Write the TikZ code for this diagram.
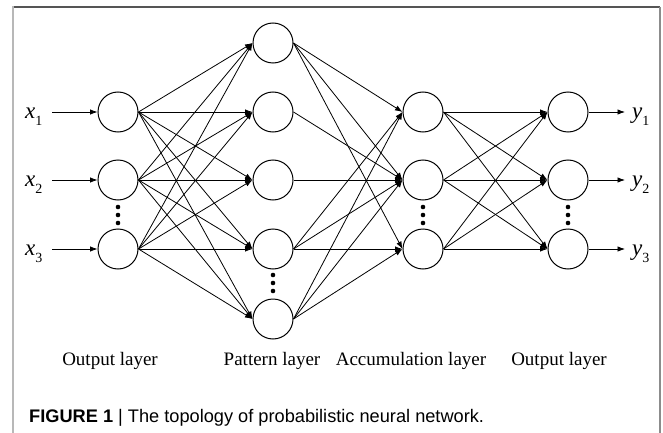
\documentclass[tikz,border=0pt]{standalone}
\usepackage{fontspec}
\setmainfont{Liberation Serif}
\newfontfamily\capfont{Liberation Sans}
\usetikzlibrary{arrows.meta}
\newcommand\lowidx[1]{\raisebox{-0.32em}{\fontsize{14}{14}\selectfont\upshape #1}}
\definecolor{frametop}{HTML}{555555}
\definecolor{frameside}{HTML}{B8B8B8}
\definecolor{frameright}{HTML}{8C8C8C}
\begin{document}
\begin{tikzpicture}[x=1pt,y=-1pt,
  neuron/.style={circle,draw,line width=1pt,minimum size=40pt,inner sep=0pt},
  link/.style={line width=0.8pt,-{Latex[length=7.5pt,width=5.5pt]}},
  dotmark/.style={circle,fill,inner sep=0pt,minimum size=4.6pt},
  lbl/.style={font=\fontsize{19}{19}\selectfont,inner sep=0pt},
  var/.style={font=\fontsize{23}{23}\selectfont\itshape,inner sep=0pt,anchor=base west}]
\useasboundingbox (0,0) rectangle (663,433);

% frame
\draw[frametop,line width=1.4pt] (12,7) -- (660,7);
\draw[frameside,line width=2pt] (13,6) -- (13,433);
\draw[frameright,line width=1.1pt] (660,7) -- (660,433);

% input layer
\node[neuron] (h1) at (118,112) {};
\node[neuron] (h2) at (118,180) {};
\node[neuron] (h3) at (118,249) {};
% pattern layer
\node[neuron] (p1) at (273,43) {};
\node[neuron] (p2) at (273,112) {};
\node[neuron] (p3) at (273,180) {};
\node[neuron] (p4) at (273,249) {};
\node[neuron] (p5) at (273,319) {};
% accumulation layer
\node[neuron] (a1) at (423,112) {};
\node[neuron] (a2) at (423,180) {};
\node[neuron] (a3) at (423,249) {};
% output layer
\node[neuron] (o1) at (568,112) {};
\node[neuron] (o2) at (568,180) {};
\node[neuron] (o3) at (568,249) {};

% ellipsis dots
\foreach \c/\yy in {118/207,423/207,568/207,273/275}{
  \node[dotmark] (d\c a) at (\c,\yy) {};
  \node[dotmark] (d\c b) at (\c,\yy+8) {};
  \node[dotmark] (d\c c) at (\c,\yy+16) {};
}

% inputs and outputs
\node[var] (x1) at (25,118) {x\lowidx{1}};
\node[var] (x2) at (25,186) {x\lowidx{2}};
\node[var] (x3) at (25,255) {x\lowidx{3}};
\node[var] (y1) at (632,118) {y\lowidx{1}};
\node[var] (y2) at (632,186) {y\lowidx{2}};
\node[var] (y3) at (632,255) {y\lowidx{3}};
\coordinate (in1) at (52,112);
\coordinate (in2) at (52,180);
\coordinate (in3) at (52,249);
\coordinate (out1) at (625,112);
\coordinate (out2) at (625,180);
\coordinate (out3) at (625,249);
\foreach \i in {1,2,3}{
  \draw[link] (in\i) -- (h\i.west);
  \draw[link] (o\i.east) -- (out\i);
}

% input -> pattern (full)
\foreach \i in {1,2,3}
  \foreach \j in {1,...,5}
    \draw[link] (h\i.east) -- (p\j.west);

% pattern -> accumulation
\foreach \s/\t in {p1/a1,p1/a2,p1/a3,p2/a2,p3/a2,p4/a1,p4/a2,p4/a3,p5/a1,p5/a2,p5/a3}
  \draw[link] (\s.east) -- (\t.west);

% accumulation -> output (full)
\foreach \i in {1,2,3}
  \foreach \j in {1,2,3}
    \draw[link] (a\i.east) -- (o\j.west);

% layer names
\node[lbl] (n1) at (110,361) {Output layer};
\node[lbl] (n2) at (272,361) {Pattern layer};
\node[lbl] (n3) at (411,361) {Accumulation layer};
\node[lbl] (n4) at (559,361) {Output layer};

% caption
\node[anchor=base west,inner sep=0pt,font=\capfont\fontsize{18.2}{18.2}\selectfont] (cap) at (29,422)
  {\textbf{FIGURE 1} | The topology of probabilistic neural network.};
\end{tikzpicture}
\end{document}
